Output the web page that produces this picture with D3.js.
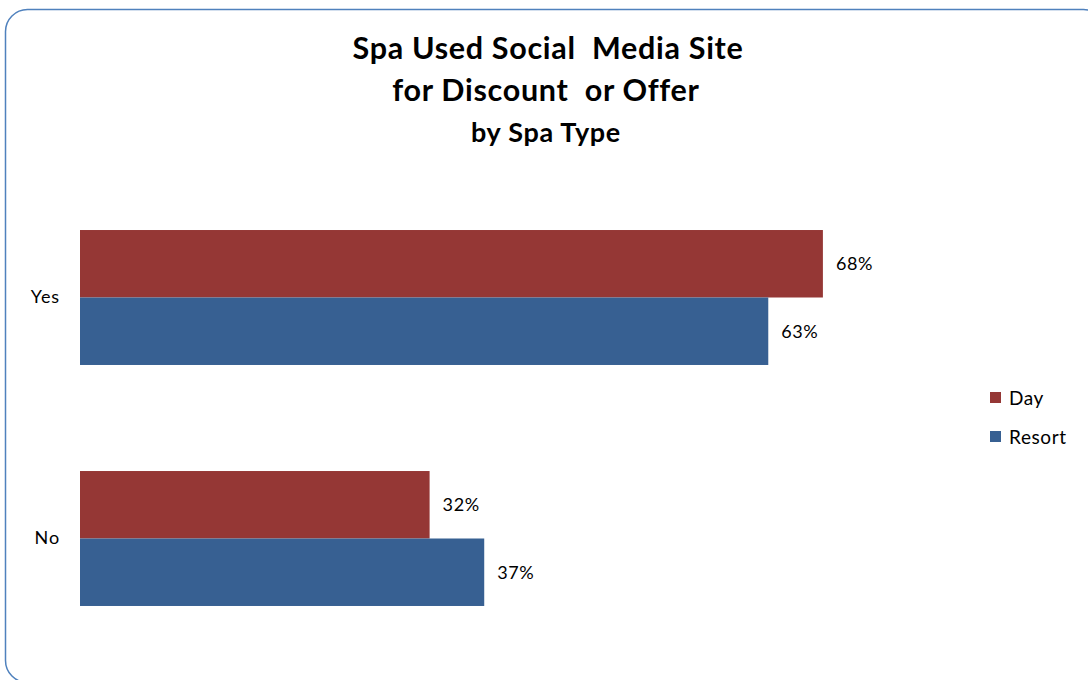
<!DOCTYPE html>
<html>
<head>
<meta charset="utf-8">
<script src="https://cdn.jsdelivr.net/npm/d3@7"></script>
<style>
  html, body { margin: 0; padding: 0; background: #fff; }
  svg { display: block; font-family: Lato, "Open Sans", sans-serif; }
</style>
</head>
<body>
<svg id="chart" width="1088" height="680"></svg>
<script>
// Share of spas that used a social media site for a discount or offer
const categories = ["Yes", "No"];
const seriesNames = ["Day", "Resort"];
const dayValues = [0.68, 0.32];
const resortValues = [0.63, 0.37];
const titleLines = ["Spa Used Social  Media Site", "for Discount  or Offer", "by Spa Type"];

const colors = { Day: "#953735", Resort: "#376092" };
const seriesValues = { Day: dayValues, Resort: resortValues };

const svg = d3.select("#chart");

// Rounded chart-area frame
svg.append("rect")
  .attr("x", 5.5).attr("y", 9.5)
  .attr("width", 1100).attr("height", 673)
  .attr("rx", 22).attr("ry", 22)
  .attr("fill", "#fff")
  .attr("stroke", "#4f81bd").attr("stroke-width", 1.5);

// Title
const title = svg.append("g").attr("text-anchor", "middle").attr("font-weight", "bold").attr("fill", "#000");
title.append("text").attr("x", 548).attr("y", 59).attr("font-size", 30.5).attr("letter-spacing", 0.7).style("white-space", "pre").text(titleLines[0]);
title.append("text").attr("x", 546).attr("y", 101).attr("font-size", 30.5).attr("letter-spacing", 0.7).style("white-space", "pre").text(titleLines[1]);
title.append("text").attr("x", 546).attr("y", 142).attr("font-size", 27).attr("letter-spacing", 0.7).text(titleLines[2]);

// Scales
const x = d3.scaleLinear().domain([0, 1]).range([80, 80 + 1092.5]);
const y = d3.scaleBand().domain(categories).range([177, 659]).paddingInner(0.44).paddingOuter(0.22);
const ySub = d3.scaleBand().domain(seriesNames).range([0, y.bandwidth()]);

// Category axis labels
const yAxis = d3.axisLeft(y).tickSize(0).tickPadding(20);
const axisG = svg.append("g").attr("transform", "translate(80,0)").call(yAxis);
axisG.select(".domain").remove();
axisG.selectAll("text").attr("font-size", 18).attr("letter-spacing", 0.9).attr("fill", "#000").style("font-family", "Lato, 'Open Sans', sans-serif");

// Bars and value labels
const groups = svg.selectAll("g.cat")
  .data(categories)
  .join("g")
  .attr("class", "cat")
  .attr("transform", d => `translate(0,${y(d)})`);

seriesNames.forEach(s => {
  groups.append("rect")
    .attr("x", x(0))
    .attr("y", ySub(s))
    .attr("width", (d, i) => x(seriesValues[s][i]) - x(0))
    .attr("height", ySub.bandwidth())
    .attr("fill", colors[s]);
  groups.append("text")
    .attr("x", (d, i) => x(seriesValues[s][i]) + 13)
    .attr("y", ySub(s) + ySub.bandwidth() / 2)
    .attr("dy", "0.35em")
    .attr("font-size", 18)
    .attr("letter-spacing", 0.6)
    .attr("fill", "#000")
    .text((d, i) => d3.format(".0%")(seriesValues[s][i]));
});

// Legend
const legend = svg.append("g").attr("transform", "translate(990,392)");
seriesNames.forEach((s, i) => {
  const g = legend.append("g").attr("transform", `translate(0,${i * 39})`);
  g.append("rect").attr("width", 11).attr("height", 11).attr("fill", colors[s]);
  g.append("text").attr("x", 19).attr("y", 6).attr("dy", "0.35em").attr("font-size", 19).attr("letter-spacing", 0.6).attr("fill", "#000").text(s);
});
</script>
</body>
</html>
